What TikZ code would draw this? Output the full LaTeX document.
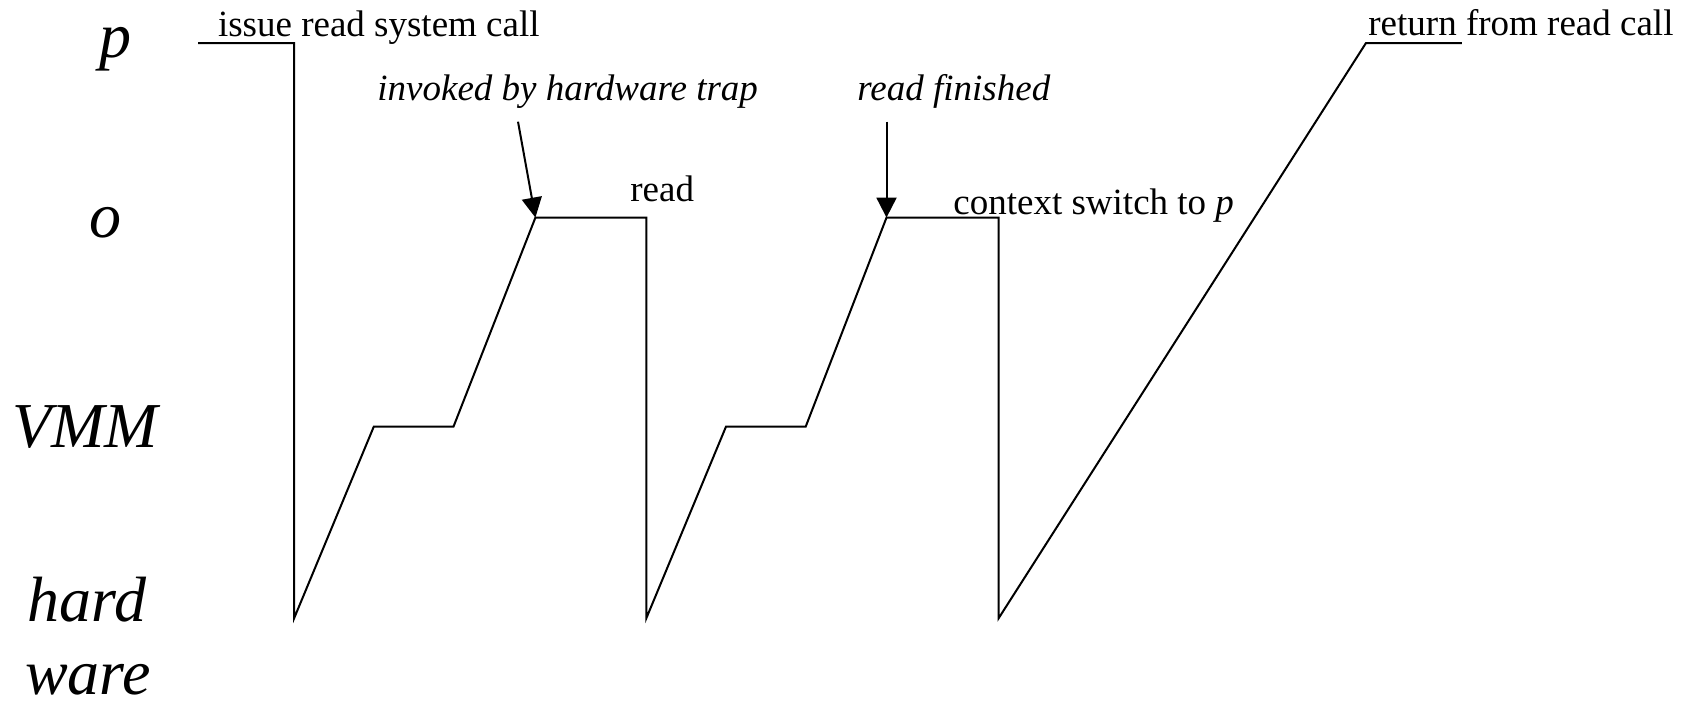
\documentclass[tikz,border=0pt]{standalone}
\usepackage{fontspec}
\setmainfont{Liberation Serif}
\usetikzlibrary{arrows.meta}
\begin{document}
\begin{tikzpicture}[x=0.5pt,y=-0.5pt,
  trace/.style={line width=1pt,line join=miter},
  pointer/.style={line width=1pt,-{Triangle[length=10pt,width=10pt]}},
  small/.style={inner sep=0pt,anchor=base west,font=\fontsize{18.5pt}{22pt}\selectfont},
  level/.style={inner sep=0pt,anchor=base,font=\fontsize{32pt}{38pt}\selectfont\itshape}]
\useasboundingbox (0,0) rectangle (1689,701);
% level labels
\node[level] (lp) at (115,58) {p};
\node[level] (lo) at (105,237) {o};
\node[level] (lv) at (85,447) {VMM};
\node[level] (lh) at (87,621.5) {hard};
\node[level] (lw) at (88,694.5) {ware};
% trace points
\coordinate (s0) at (198.2,43.1);
\coordinate (s1) at (294.1,43.1);
\coordinate (h1) at (294.1,618.3);
\coordinate (v1a) at (373.8,426.6);
\coordinate (v1b) at (453.5,426.6);
\coordinate (o1a) at (535.4,217.6);
\coordinate (o1b) at (646.3,217.6);
\coordinate (h2) at (646.3,618.3);
\coordinate (v2a) at (726.0,426.6);
\coordinate (v2b) at (805.7,426.6);
\coordinate (o2a) at (886.5,217.6);
\coordinate (o2b) at (998.6,217.6);
\coordinate (h3) at (998.6,618.3);
\coordinate (p2a) at (1365.9,43.1);
\coordinate (p2b) at (1461.8,43.1);
\draw[trace] (s0) -- (s1) -- (h1) -- (v1a) -- (v1b) -- (o1a) -- (o1b) -- (h2)
  -- (v2a) -- (v2b) -- (o2a) -- (o2b) -- (h3) -- (p2a) -- (p2b);
% labels
\node[small] (issue) at (217.6,36.5) {issue read system call};
\node[small] (trap) at (377,101) {\itshape invoked by hardware trap};
\node[small] (fin) at (857,101) {\itshape read finished};
\node[small] (rd) at (630,201) {read};
\node[small] (ctx) at (953,214.5) {context switch to \textit{p}};
\node[small] (ret) at (1368,35.5) {return from read call};
% arrows
\coordinate (t1) at (518,121.7);
\coordinate (t2) at (886.5,121.7);
\draw[pointer] (t1) -- (o1a);
\draw[pointer] (t2) -- (o2a);
\end{tikzpicture}
\end{document}
